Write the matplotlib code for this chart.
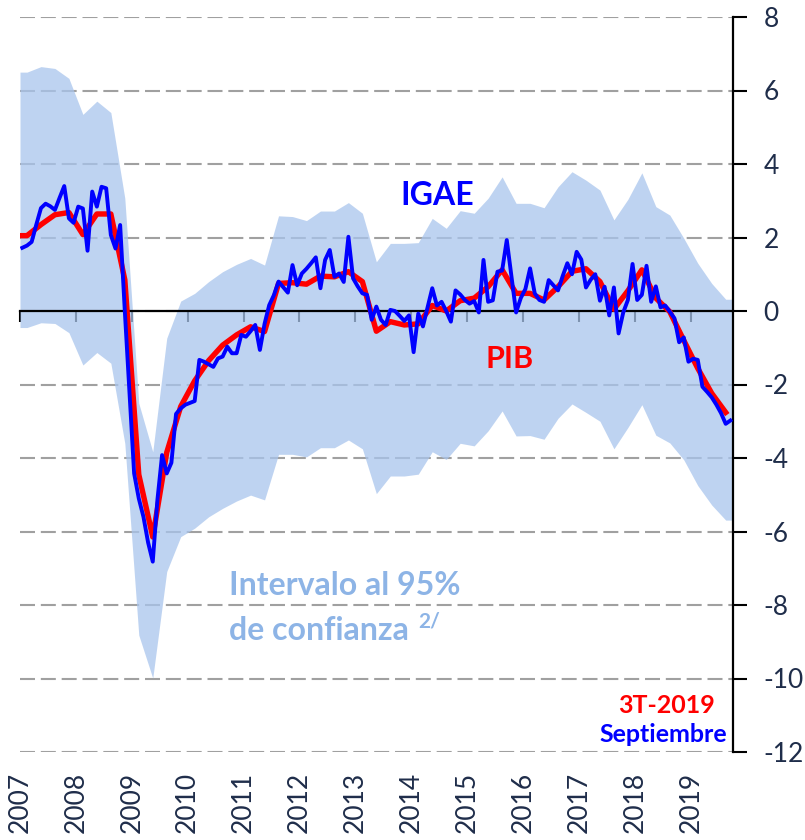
import numpy as np
import matplotlib.pyplot as plt

plt.rcParams['font.family'] = ['Lato', 'DejaVu Sans']
plt.rcParams['axes.unicode_minus'] = False

# Etiquetas del eje horizontal (un año cada 12 meses)
anios = ['2007', '2008', '2009', '2010', '2011', '2012', '2013',
         '2014', '2015', '2016', '2017', '2018', '2019']

# IGAE mensual, ene-2007 a sep-2019
igae = [
    1.72, 1.78, 1.88, 2.35, 2.80, 2.92, 2.85, 2.75, 3.08, 3.40, 2.52, 2.40,
    2.84, 2.79, 1.64, 3.25, 2.84, 3.38, 3.34, 2.07, 1.70, 2.34, 0.00, -2.20,
    -4.42, -5.10, -5.60, -6.30, -6.82, -5.14, -3.92, -4.42, -4.13, -2.80, -2.65, -2.55,
    -2.50, -2.45, -1.33, -1.38, -1.45, -1.52, -1.29, -1.24, -0.97, -1.15, -1.15, -0.65,
    -0.70, -0.55, -0.38, -1.06, -0.35, 0.16, 0.43, 0.80, 0.65, 0.50, 1.25, 0.70,
    1.02, 1.15, 1.30, 1.46, 0.62, 1.39, 1.66, 0.93, 1.02, 0.79, 2.02, 0.89,
    0.67, 0.48, 0.44, -0.24, 0.12, -0.24, -0.38, 0.03, 0.00, -0.13, -0.27, -0.12,
    -1.12, -0.07, -0.42, 0.10, 0.62, 0.15, 0.25, 0.00, -0.29, 0.56, 0.45, 0.30,
    0.20, 0.27, -0.04, 1.39, 0.25, 0.29, 1.07, 1.10, 1.93, 0.95, -0.04, 0.35,
    0.60, 1.16, 0.48, 0.30, 0.25, 0.84, 0.70, 0.56, 0.95, 1.30, 1.00, 1.61,
    1.40, 0.64, 0.85, 1.00, 0.28, 0.66, -0.12, 0.64, -0.61, -0.04, 0.30, 1.28,
    0.30, 0.44, 1.23, 0.25, 0.67, 0.10, 0.15, -0.02, -0.20, -0.85, -0.72, -1.38,
    -1.30, -1.33, -2.06, -2.20, -2.35, -2.55, -2.78, -3.07, -2.98,
]

# PIB trimestral, 1T-2007 a 3T-2019
pib = [
    2.05, 2.35, 2.62, 2.68, 2.08, 2.64, 2.64, 0.85,
    -4.45, -6.15, -3.85, -2.60, -1.90, -1.35, -0.93, -0.65,
    -0.43, -0.56, 0.75, 0.77, 0.73, 0.95, 0.93, 1.07,
    0.80, -0.55, -0.29, -0.38, -0.35, 0.15, 0.00, 0.28,
    0.35, 0.66, 1.12, 0.48, 0.48, 0.30, 0.66, 1.08,
    1.15, 0.80, 0.05, 0.55, 1.12, 0.35, -0.02, -0.80,
    -1.56, -2.24, -2.76,
]

# Intervalo al 95% de confianza (trimestral)
banda_sup = [
    6.50, 6.65, 6.60, 6.33, 5.35, 5.71, 5.40, 3.07,
    -2.51, -3.83, -0.74, 0.27, 0.48, 0.80, 1.07, 1.27,
    1.43, 1.25, 2.59, 2.57, 2.46, 2.72, 2.72, 2.95,
    2.66, 1.34, 1.84, 1.84, 1.86, 2.52, 2.25, 2.73,
    2.66, 3.07, 3.65, 2.93, 2.93, 2.81, 3.38, 3.79,
    3.56, 3.29, 2.48, 3.04, 3.76, 2.84, 2.61, 1.98,
    1.30, 0.75, 0.32,
]
banda_inf = [
    -0.45, -0.32, -0.34, -0.59, -1.47, -1.13, -1.42, -3.60,
    -8.82, -9.99, -7.09, -6.14, -5.91, -5.60, -5.37, -5.17,
    -5.01, -5.14, -3.90, -3.90, -3.97, -3.72, -3.72, -3.51,
    -3.75, -4.97, -4.49, -4.49, -4.44, -3.83, -4.04, -3.60,
    -3.67, -3.26, -2.72, -3.40, -3.39, -3.49, -2.92, -2.53,
    -2.76, -3.00, -3.75, -3.17, -2.55, -3.38, -3.59, -4.05,
    -4.75, -5.28, -5.69,
]

navy = '#1F2D4A'
azul_banda = '#A9C5ED'

n_mes = len(igae)
x_mes = np.arange(n_mes) + 0.5
x_trim = np.arange(len(pib)) * 3 + 1.5

# la banda llega a los bordes del eje
x_banda = np.r_[0, x_trim, n_mes]
sup = np.r_[banda_sup[0], banda_sup, banda_sup[-1]]
inf = np.r_[banda_inf[0], banda_inf, banda_inf[-1]]

fig = plt.figure(figsize=(8.05, 8.4), dpi=100)
ax = fig.add_axes([20 / 805, 1 - 752 / 840, 712.7 / 805, 735 / 840])

ax.fill_between(x_banda, inf, sup, color=azul_banda, alpha=0.75, lw=0, zorder=1)
ax.plot(np.r_[0, x_trim], np.r_[pib[0], pib], color='#FF0000', lw=3.9,
        solid_joinstyle='round', zorder=3)
ax.plot(x_mes, igae, color='#0000FF', lw=2.8, solid_joinstyle='round', zorder=4)

ax.set_xlim(0, n_mes)
ax.set_ylim(-12, 8)

# rejilla discontinua
ax.set_axisbelow(True)
ax.set_yticks(np.arange(-12, 9, 2))
ax.yaxis.grid(True, color='#A0A0A0', lw=1.5, ls=(0, (7.2, 2.8)))

# eje vertical a la derecha
ax.yaxis.tick_right()
ax.tick_params(axis='y', direction='out', length=10, width=1.5, pad=12,
               labelsize=19, labelcolor=navy, color='black')
for s in ['left', 'top']:
    ax.spines[s].set_visible(False)
ax.spines['right'].set_linewidth(1.6)

# linea del cero con las marcas de cada año
ax.spines['bottom'].set_position(('data', 0))
ax.spines['bottom'].set_linewidth(1.6)
ax.set_xticks(np.arange(0, n_mes, 12))
ax.tick_params(axis='x', direction='out', length=8, width=1.5,
               labelbottom=False)

sec = ax.secondary_xaxis('bottom')
sec.set_xticks(np.arange(0, n_mes, 12), labels=anios)
sec.tick_params(length=0, pad=14, labelsize=19, labelcolor=navy,
                labelrotation=90)
sec.spines['bottom'].set_visible(False)

ax.text(89.6, 2.88, 'IGAE', color='#0000FF', fontsize=23, fontweight='bold',
        ha='center', va='baseline')
ax.text(105.2, -1.56, 'PIB', color='#FF0000', fontsize=22, fontweight='bold',
        ha='center', va='baseline')

celeste = '#8DB4E6'
ax.text(44.9, -7.73, 'Intervalo al 95%', color=celeste, fontsize=23,
        fontweight='bold', ha='left', va='baseline')
ax.text(44.9, -8.95, 'de confianza', color=celeste, fontsize=23,
        fontweight='bold', ha='left', va='baseline')
ax.text(85.4, -8.6, '2/', color=celeste, fontsize=15, fontweight='bold',
        ha='left', va='baseline')

ax.text(149.1, -10.95, '3T-2019', color='#FF0000', fontsize=18,
        fontweight='bold', ha='right', va='baseline')
ax.text(151.7, -11.73, 'Septiembre', color='#0000FF', fontsize=18,
        fontweight='bold', ha='right', va='baseline')

fig.savefig('out.png', dpi=100)
